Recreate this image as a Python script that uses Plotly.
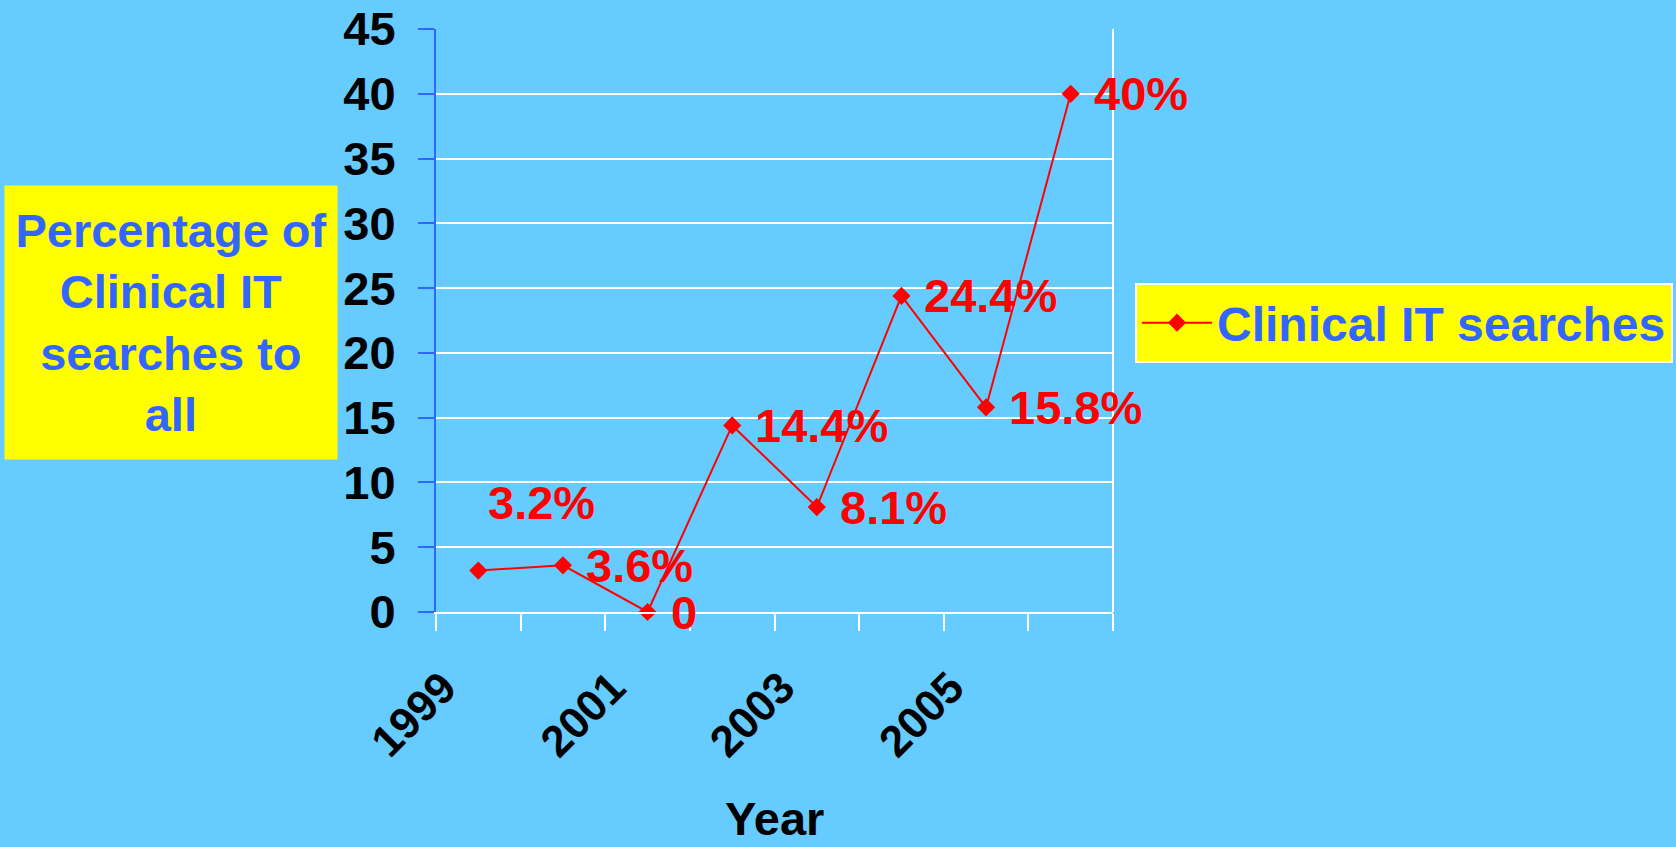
import plotly.graph_objects as go

years = [1999, 2000, 2001, 2002, 2003, 2004, 2005, 2006]
values = [3.2, 3.6, 0, 14.4, 8.1, 24.4, 15.8, 40]
point_labels = ["3.2%", "3.6%", "0", "14.4%", "8.1%", "24.4%", "15.8%", "40%"]
tick_years = [1999, 2001, 2003, 2005]
tick_labels = ["1999", "2001", "2003", "2005"]
series_name = "Clinical IT searches"
y_title = "Percentage of<br>Clinical IT<br>searches to<br>all"
x_title = "Year"

FONT = "Liberation Sans, Arial, sans-serif"
BG = "#66CCFF"
BLUE = "#3366FF"
RED = "#FF0000"

W, H = 1676, 847
L, R, T, B = 436, 563, 29, 235
pw, ph = W - L - R, H - T - B

fig = go.Figure()
fig.add_trace(go.Scatter(
    x=years, y=values, mode="lines+markers", name=series_name,
    line=dict(color=RED, width=2),
    marker=dict(symbol="diamond", size=14, color=RED),
    cliponaxis=False,
))

# data labels (3.2% label was moved up in the original)
for i, (x, y, t) in enumerate(zip(years, values, point_labels)):
    xs, ys = 21, 0
    if i == 0:
        xs, ys = 8, 68
    fig.add_annotation(x=x, y=y, text=t, showarrow=False, xanchor="left", yanchor="middle",
                       xshift=xs, yshift=ys,
                       font=dict(family=FONT, size=47, color=RED, weight="bold"))

# y title box
fig.add_annotation(xref="paper", yref="paper", x=(171 - L) / pw, y=(H - B - 322) / ph,
                   text=y_title, showarrow=False, xanchor="center", yanchor="middle",
                   align="center", bgcolor="#FFFF00", width=322, height=263, borderpad=5,
                   font=dict(family=FONT, size=47, color=BLUE, weight="bold"))
# x title
fig.add_annotation(xref="paper", yref="paper", x=0.5, y=-B / ph,
                   text=x_title, showarrow=False, xanchor="center", yanchor="bottom",
                   font=dict(family=FONT, size=47, color="black", weight="bold"))

# right border of plot area
fig.add_shape(type="line", xref="paper", yref="paper", x0=1, x1=1, y0=0, y1=1,
              line=dict(color="white", width=2))

fig.update_layout(
    width=W, height=H,
    margin=dict(l=L, r=R, t=T, b=B, autoexpand=False),
    paper_bgcolor=BG, plot_bgcolor=BG,
    showlegend=True,
    legend=dict(x=(1135 - L) / pw, y=(H - B - 283) / ph, xanchor="left", yanchor="top",
                bgcolor="#FFFF00", bordercolor="white", borderwidth=2,
                font=dict(family=FONT, size=48, color=BLUE, weight="bold"),
                itemwidth=70),
    xaxis=dict(range=[1998.5, 2006.5], tickvals=tick_years, ticktext=tick_labels,
               tickangle=-45, ticks="", showgrid=False, zeroline=False,
               showline=True, linecolor="white", linewidth=2, automargin=False,
               minor=dict(tick0=1998.5, dtick=1, ticks="outside", ticklen=17, tickwidth=2,
                          tickcolor="white", showgrid=False),
               tickfont=dict(family=FONT, size=44, color="black", weight="bold"),
               ticklabelstandoff=30, ticklabelshift=-35),
    yaxis=dict(range=[0, 45], dtick=5, showgrid=True, gridcolor="white", gridwidth=2,
               ticks="outside", ticklen=16, tickwidth=2, tickcolor=BLUE,
               showline=True, linecolor=BLUE, linewidth=2, zeroline=False, automargin=False,
               tickfont=dict(family=FONT, size=47, color="black", weight="bold"),
               ticklabelstandoff=13),
)

fig.write_html("out.html")
